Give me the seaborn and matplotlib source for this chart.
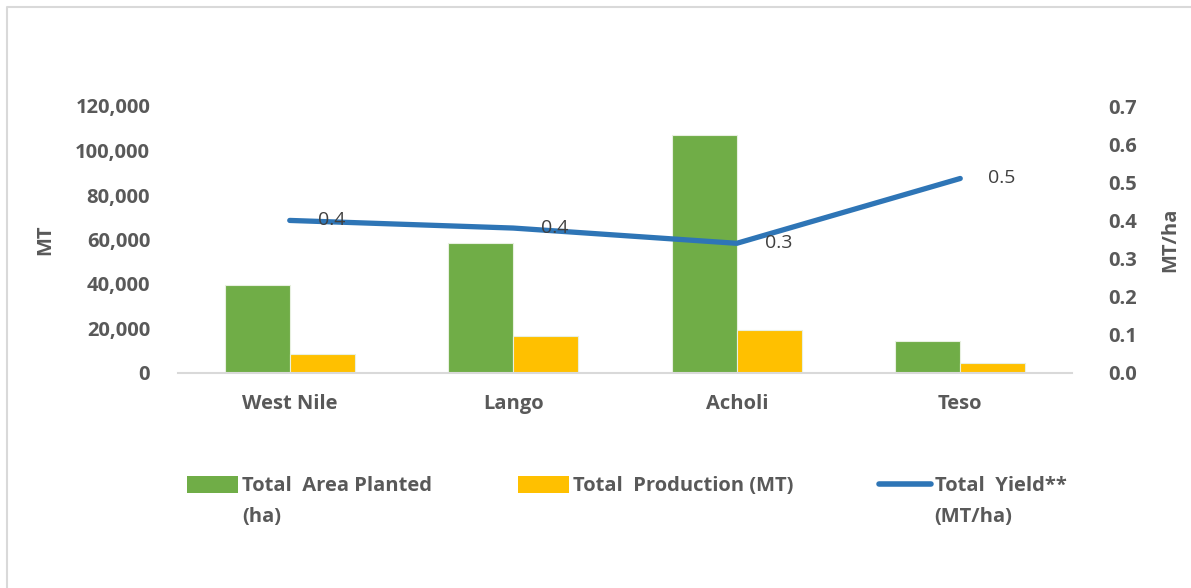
import numpy as np
import pandas as pd
import matplotlib
matplotlib.use("Agg")
import matplotlib.pyplot as plt
import seaborn as sns
from matplotlib.lines import Line2D
from matplotlib.patches import Patch

# data
regions = ["West Nile", "Lango", "Acholi", "Teso"]
area_planted = [39600, 58400, 107100, 14400]
production = [8600, 16700, 19400, 4700]
yield_mt_ha = [0.40, 0.38, 0.34, 0.51]
yield_labels = ["0.4", "0.4", "0.3", "0.5"]

series_names = ["Total  Area Planted\n(ha)", "Total  Production (MT)"]
line_name = "Total  Yield**\n(MT/ha)"

green = "#70AD47"
yellow = "#FFC000"
blue = "#2E75B6"
grey_txt = "#595959"

df = pd.DataFrame({
    "region": regions * 2,
    "value": area_planted + production,
    "series": [series_names[0]] * 4 + [series_names[1]] * 4,
})

sns.set_style("white")
plt.rcParams["font.family"] = ["Open Sans", "DejaVu Sans"]
plt.rcParams["font.weight"] = "bold"
plt.rcParams["axes.labelweight"] = "bold"

fig = plt.figure(figsize=(11.91, 5.88), dpi=100)
ax = fig.add_axes([178 / 1191, 1 - 373 / 588, 894 / 1191, 267 / 588])

sns.barplot(data=df, x="region", y="value", hue="series", order=regions,
            palette=[green, yellow], saturation=1, width=0.58,
            edgecolor="#E8F0E0", linewidth=0.8, ax=ax, legend=False)
ax.set_xlim(-0.5, 3.5)
ax.set_ylim(0, 120000)
ax.set_yticks(np.arange(0, 120001, 20000))
ax.set_yticklabels([f"{v:,}" for v in range(0, 120001, 20000)])
ax.set_xlabel("")
ax.set_ylabel("MT", fontsize=14.5, color=grey_txt)
ax.yaxis.set_label_coords((55 - 178) / 894, 0.5)
for s in ["top", "right", "left"]:
    ax.spines[s].set_visible(False)
ax.spines["bottom"].set_color("#D9D9D9")
ax.spines["bottom"].set_linewidth(1.5)
ax.tick_params(axis="y", length=0, labelsize=14.5, labelcolor=grey_txt, pad=20)
ax.tick_params(axis="x", length=0, labelsize=14.5, labelcolor=grey_txt, pad=15)

ax2 = ax.twinx()
xs = np.arange(len(regions))
sns.lineplot(x=xs, y=yield_mt_ha, color=blue, linewidth=3.8, ax=ax2,
             solid_capstyle="round")
ax2.set_ylim(0, 0.7)
ax2.set_yticks(np.arange(0, 0.71, 0.1))
ax2.set_yticklabels([f"{v:.1f}" for v in np.arange(0, 0.71, 0.1)])
ax2.set_ylabel("MT/ha", fontsize=14.5, color=grey_txt)
ax2.yaxis.set_label_coords((1160 - 178) / 894, 0.5)
for s in ["top", "right", "left", "bottom"]:
    ax2.spines[s].set_visible(False)
ax2.tick_params(axis="y", length=0, labelsize=14.5, labelcolor=grey_txt, pad=26)

for x, y, lab in zip(xs, yield_mt_ha, yield_labels):
    ax2.annotate(lab, (x, y), xytext=(20, 0), textcoords="offset points",
                 ha="left", va="center", fontsize=14, fontweight="normal",
                 color="#404040")

handles = [Patch(facecolor=green, edgecolor="none"),
           Patch(facecolor=yellow, edgecolor="none"),
           Line2D([0], [0], color=blue, linewidth=4, solid_capstyle="round")]
leg = fig.legend(handles, series_names + [line_name], ncol=3, frameon=False,
                 loc="upper left", bbox_to_anchor=(187 / 1191, 1 - 476 / 588),
                 fontsize=14.5, handlelength=2.55, handleheight=0.9,
                 handletextpad=0.2, columnspacing=4.25, borderpad=0,
                 borderaxespad=0)
for t in leg.get_texts():
    t.set_color(grey_txt)
    t.set_linespacing(1.75)
# align handles with the first text line, and columns at the top
leg._legend_handle_box.align = "top"
for col in leg._legend_handle_box.get_children():
    col.align = "left"
    for row in col.get_children():
        row.align = "top"

# chart frame (only top and left edges visible in the reference)
fig.add_artist(Line2D([7 / 1191, 7 / 1191, 1.0], [0, 1 - 7 / 588, 1 - 7 / 588],
                      color="#D9D9D9", linewidth=1.5, transform=fig.transFigure))

fig.savefig("out.png", dpi=100)
